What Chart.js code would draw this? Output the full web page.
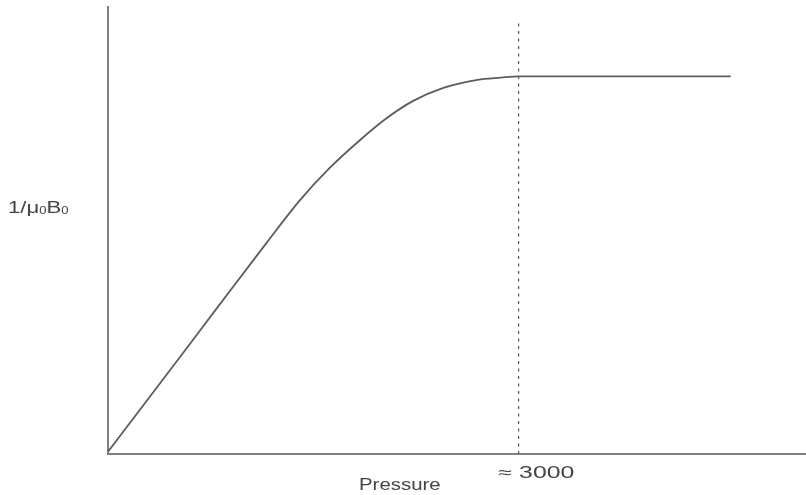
<!DOCTYPE html>
<html>
<head>
<meta charset="utf-8">
<style>
  html, body { margin: 0; padding: 0; background: #fff; }
  #wrap { width: 806px; height: 495px; }
</style>
<script src="https://cdn.jsdelivr.net/npm/chart.js@4/dist/chart.umd.min.js"></script>
</head>
<body>
<div id="wrap"><canvas id="chart" width="806" height="495"></canvas></div>
<script>
// pressure (x) and 1/u0B0 (arbitrary units, axis top = 100)
const pressure = [0, 400, 800, 1150, 1400, 1620, 1840, 2030, 2230, 2450, 2700, 2870, 3000, 4550];
const invMuB = [0.5, 16.6, 32.8, 46.9, 56.7, 64.0, 70.2, 75.0, 79.0, 81.9, 83.7, 84.2, 84.5, 84.5];

const markerPressure = 3000;
const markerTop = 96.4;
const markerLabel = '\u2248 3000';
const xTitle = 'Pressure';

const xMax = 5100;
const yMax = 100;

const ink = '#444';

// stretched text, the lettering in this figure is wide
function wideText(ctx, text, x, y, size, stretch) {
  ctx.save();
  ctx.translate(x, y);
  ctx.scale(stretch, 1);
  ctx.font = size + 'px "Liberation Sans", Arial, sans-serif';
  ctx.fillText(text, 0, 0);
  const w = ctx.measureText(text).width * stretch;
  ctx.restore();
  return w;
}

const labels = {
  id: 'labels',
  afterDraw(chart) {
    const ctx = chart.ctx;
    const xs = chart.scales.x;
    ctx.save();
    ctx.fillStyle = ink;
    ctx.textBaseline = 'alphabetic';
    ctx.textAlign = 'left';

    // marker value under the axis
    wideText(ctx, markerLabel, xs.getPixelForValue(markerPressure) - 20, 478, 16, 1.55);
    // x title
    wideText(ctx, xTitle, 359, 490, 17, 1.2);

    // y title: 1/u0B0 with subscripts
    let x = 8;
    const base = 213;
    x += wideText(ctx, '1/\u03bc', x, base, 17, 1.3);
    x += wideText(ctx, '0', x, base + 1, 10, 1.3);
    x += wideText(ctx, 'B', x, base, 17, 1.3);
    wideText(ctx, '0', x, base + 1, 10, 1.3);
    ctx.restore();
  }
};

new Chart(document.getElementById('chart'), {
  type: 'line',
  data: {
    datasets: [
      {
        label: '1/u0B0',
        data: pressure.map((p, i) => ({ x: p, y: invMuB[i] })),
        borderColor: '#5c5c5c',
        borderWidth: 1.8,
        pointRadius: 0,
        cubicInterpolationMode: 'monotone',
        fill: false,
      },
      {
        label: 'marker',
        data: [{ x: markerPressure, y: 0 }, { x: markerPressure, y: markerTop }],
        borderColor: '#555',
        borderWidth: 1.2,
        borderDash: [3, 4.5],
        pointRadius: 0,
        fill: false,
      },
    ],
  },
  options: {
    responsive: false,
    animation: false,
    layout: { padding: { left: 108, top: 7, right: 0, bottom: 41 } },
    plugins: { legend: { display: false }, tooltip: { enabled: false } },
    scales: {
      x: {
        type: 'linear', min: 0, max: xMax,
        ticks: { display: false },
        grid: { display: false, drawTicks: false },
        border: { display: true, color: '#808080', width: 2 },
      },
      y: {
        type: 'linear', min: 0, max: yMax,
        ticks: { display: false },
        grid: { display: false, drawTicks: false },
        border: { display: true, color: '#808080', width: 2 },
      },
    },
  },
  plugins: [labels],
});
</script>
</body>
</html>
